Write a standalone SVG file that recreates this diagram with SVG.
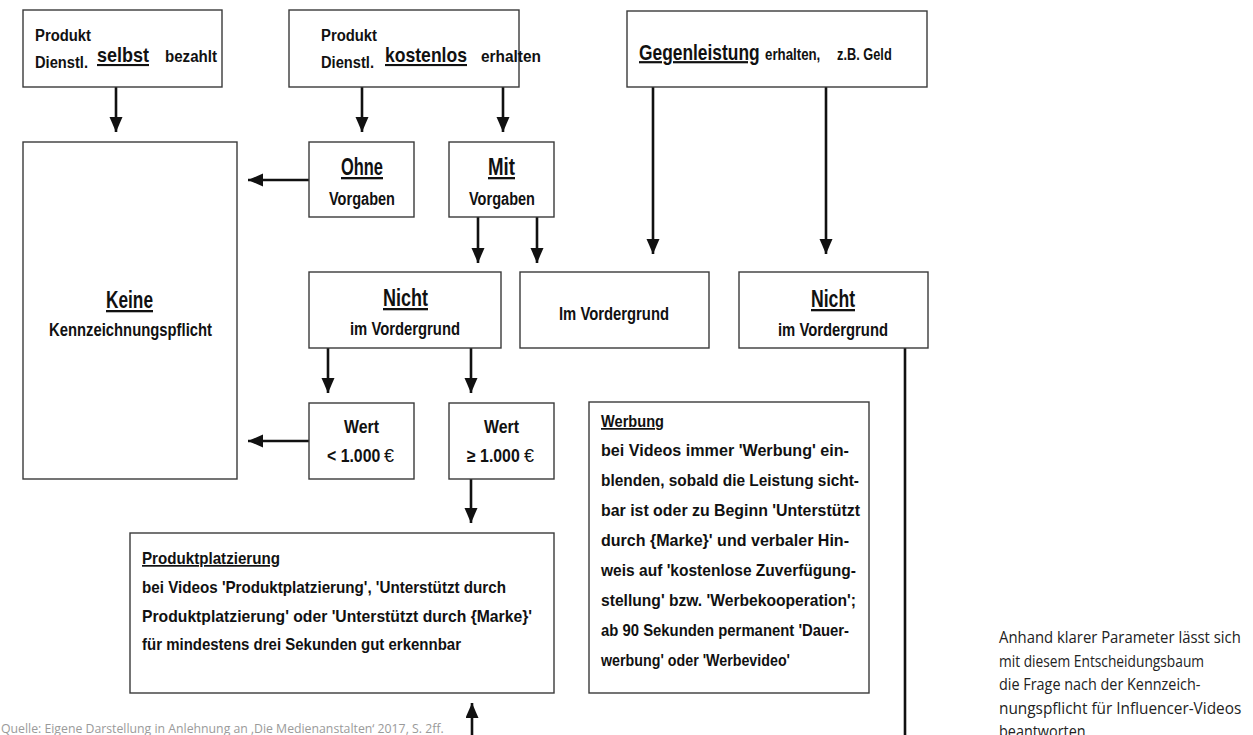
<svg xmlns="http://www.w3.org/2000/svg" width="1253" height="735" viewBox="0 0 1253 735">
<style>
.box{fill:#fff;stroke:#3a3a3a;stroke-width:1.4}
.t{font-family:"Liberation Sans",Arial,sans-serif;font-weight:bold;fill:#111}
.h{font-size:23px;text-decoration:underline}
.m{font-size:21px;text-decoration:underline}
.b{font-size:18px}
.s{font-size:16px}
.p{font-size:17px}
.eu{font-family:"Liberation Sans",Arial,sans-serif;font-size:18px;fill:#111}
.con line{stroke:#111;stroke-width:2.6}
.note{font-family:"Open Sans","Liberation Sans",sans-serif;font-size:16px;fill:#222}
.src{font-family:"Open Sans","Liberation Sans",sans-serif;font-size:13.5px;fill:#9a9a9a}
</style>
<defs>
<marker id="ah" markerUnits="userSpaceOnUse" markerWidth="16" markerHeight="14" refX="15" refY="6.5" orient="auto">
<path d="M0,0 L15,6.5 L0,13 Z" fill="#111"/>
</marker>
</defs>
<rect width="1253" height="735" fill="#fff"/>

<g id="connectors" class="con">
<line x1="116" y1="87" x2="116" y2="132" marker-end="url(#ah)"/>
<line x1="362" y1="87" x2="362" y2="132" marker-end="url(#ah)"/>
<line x1="503" y1="87" x2="503" y2="132" marker-end="url(#ah)"/>
<line x1="309" y1="180" x2="248" y2="180" marker-end="url(#ah)"/>
<line x1="478" y1="217" x2="478" y2="263" marker-end="url(#ah)"/>
<line x1="537" y1="217" x2="537" y2="263" marker-end="url(#ah)"/>
<line x1="653" y1="87" x2="653" y2="254" marker-end="url(#ah)"/>
<line x1="826" y1="87" x2="826" y2="254" marker-end="url(#ah)"/>
<line x1="328" y1="348" x2="328" y2="393" marker-end="url(#ah)"/>
<line x1="471" y1="348" x2="471" y2="393" marker-end="url(#ah)"/>
<line x1="309" y1="441" x2="248" y2="441" marker-end="url(#ah)"/>
<line x1="471" y1="479" x2="471" y2="523" marker-end="url(#ah)"/>
<line x1="472" y1="740" x2="472" y2="703" marker-end="url(#ah)"/>
<line x1="905" y1="348" x2="905" y2="740"/>
</g>

<g id="n-selbst">
<rect class="box" x="23" y="10" width="199" height="77"/>
<text class="t s" x="35" y="41" textLength="56" lengthAdjust="spacingAndGlyphs">Produkt</text>
<text class="t s" x="35" y="68" textLength="53" lengthAdjust="spacingAndGlyphs">Dienstl.</text>
<text class="t m" x="97" y="62" textLength="52" lengthAdjust="spacingAndGlyphs">selbst</text>
<text class="t s" x="165" y="62" textLength="52" lengthAdjust="spacingAndGlyphs">bezahlt</text>
</g>

<g id="n-kostenlos">
<rect class="box" x="289" y="10" width="230" height="77"/>
<text class="t s" x="321" y="41" textLength="56" lengthAdjust="spacingAndGlyphs">Produkt</text>
<text class="t s" x="321" y="68" textLength="53" lengthAdjust="spacingAndGlyphs">Dienstl.</text>
<text class="t m" x="385" y="62" textLength="82" lengthAdjust="spacingAndGlyphs">kostenlos</text>
<text class="t s" x="481" y="62" textLength="60" lengthAdjust="spacingAndGlyphs">erhalten</text>
</g>

<g id="n-gegenleistung">
<rect class="box" x="627" y="11" width="300" height="76"/>
<text class="t" transform="translate(639,60) scale(0.79,1)" font-size="22" text-decoration="underline">Gegenleistung</text>
<text class="t s" transform="translate(765,60) scale(0.83,1)">erhalten,</text>
<text class="t s" transform="translate(837,60) scale(0.8,1)">z.B. Geld</text>
</g>

<g id="n-keine">
<rect class="box" x="23" y="142" width="214" height="337"/>
<text class="t h" x="106" y="308" textLength="47" lengthAdjust="spacingAndGlyphs">Keine</text>
<text class="t b" x="49" y="336" textLength="163" lengthAdjust="spacingAndGlyphs">Kennzeichnungspflicht</text>
</g>

<g id="n-ohne">
<rect class="box" x="309" y="142" width="105" height="75"/>
<text class="t h" x="341" y="175" textLength="42" lengthAdjust="spacingAndGlyphs">Ohne</text>
<text class="t b" x="329" y="205" textLength="66" lengthAdjust="spacingAndGlyphs">Vorgaben</text>
</g>

<g id="n-mit">
<rect class="box" x="449" y="142" width="105" height="75"/>
<text class="t h" x="488" y="175" textLength="27" lengthAdjust="spacingAndGlyphs">Mit</text>
<text class="t b" x="469" y="205" textLength="66" lengthAdjust="spacingAndGlyphs">Vorgaben</text>
</g>

<g id="n-nicht1">
<rect class="box" x="309" y="272" width="192" height="76"/>
<text class="t h" x="383" y="306" textLength="45" lengthAdjust="spacingAndGlyphs">Nicht</text>
<text class="t b" x="350" y="335" textLength="110" lengthAdjust="spacingAndGlyphs">im Vordergrund</text>
</g>

<g id="n-imvordergrund">
<rect class="box" x="520" y="272" width="189" height="76"/>
<text class="t b" x="559" y="320" textLength="110" lengthAdjust="spacingAndGlyphs">Im Vordergrund</text>
</g>

<g id="n-nicht2">
<rect class="box" x="739" y="272" width="189" height="76"/>
<text class="t h" x="811" y="307" textLength="44" lengthAdjust="spacingAndGlyphs">Nicht</text>
<text class="t b" x="778" y="336" textLength="110" lengthAdjust="spacingAndGlyphs">im Vordergrund</text>
</g>

<g id="n-wert-lt">
<rect class="box" x="309" y="403" width="105" height="76"/>
<text class="t b" x="344" y="433" textLength="35" lengthAdjust="spacingAndGlyphs">Wert</text>
<text class="t b" transform="translate(327,462) scale(0.88,1)">&lt; 1.000</text>
<text class="eu" x="384" y="462">€</text>
</g>

<g id="n-wert-ge">
<rect class="box" x="449" y="403" width="105" height="76"/>
<text class="t b" x="484" y="433" textLength="35" lengthAdjust="spacingAndGlyphs">Wert</text>
<text class="t b" transform="translate(467,462) scale(0.88,1)">≥ 1.000</text>
<text class="eu" x="524" y="462">€</text>
</g>

<g id="n-produktplatzierung">
<rect class="box" x="130" y="533" width="424" height="160"/>
<text class="t p" x="142" y="564" text-decoration="underline" textLength="138" lengthAdjust="spacingAndGlyphs">Produktplatzierung</text>
<text class="t p" x="142" y="593" textLength="364" lengthAdjust="spacingAndGlyphs">bei Videos 'Produktplatzierung', 'Unterstützt durch</text>
<text class="t p" x="142" y="621.5" textLength="390" lengthAdjust="spacingAndGlyphs">Produktplatzierung' oder 'Unterstützt durch {Marke}'</text>
<text class="t p" x="142" y="650" textLength="319" lengthAdjust="spacingAndGlyphs">für mindestens drei Sekunden gut erkennbar</text>
</g>

<g id="n-werbung">
<rect class="box" x="589" y="402" width="280" height="291"/>
<text class="t p" x="601" y="427" text-decoration="underline" textLength="63" lengthAdjust="spacingAndGlyphs">Werbung</text>
<text class="t p" x="601" y="456" textLength="248" lengthAdjust="spacingAndGlyphs">bei Videos immer 'Werbung' ein-</text>
<text class="t p" x="601" y="486" textLength="258" lengthAdjust="spacingAndGlyphs">blenden, sobald die Leistung sicht-</text>
<text class="t p" x="601" y="516" textLength="259" lengthAdjust="spacingAndGlyphs">bar ist oder zu Beginn 'Unterstützt</text>
<text class="t p" x="601" y="546" textLength="248" lengthAdjust="spacingAndGlyphs">durch {Marke}' und verbaler Hin-</text>
<text class="t p" x="601" y="576" textLength="255" lengthAdjust="spacingAndGlyphs">weis auf 'kostenlose Zuverfügung-</text>
<text class="t p" x="601" y="606" textLength="255" lengthAdjust="spacingAndGlyphs">stellung' bzw. 'Werbekooperation';</text>
<text class="t p" x="601" y="636" textLength="248" lengthAdjust="spacingAndGlyphs">ab 90 Sekunden permanent 'Dauer-</text>
<text class="t p" x="601" y="666" textLength="189" lengthAdjust="spacingAndGlyphs">werbung' oder 'Werbevideo'</text>
</g>

<g id="note">
<text class="note" transform="translate(999,643) scale(0.93,1)">Anhand klarer Parameter lässt sich</text>
<text class="note" transform="translate(999,666.5) scale(0.86,1)">mit diesem Entscheidungsbaum</text>
<text class="note" transform="translate(999,690) scale(0.9,1)">die Frage nach der Kennzeich-</text>
<text class="note" transform="translate(999,713.5) scale(0.96,1)">nungspflicht für Influencer-Videos</text>
<text class="note" transform="translate(999,737) scale(0.9,1)">beantworten</text>
</g>

<g id="source">
<text class="src" transform="translate(1,733) scale(0.91,1)">Quelle: Eigene Darstellung in Anlehnung an ‚Die Medienanstalten‘ 2017, S. 2ff.</text>
</g>
</svg>
